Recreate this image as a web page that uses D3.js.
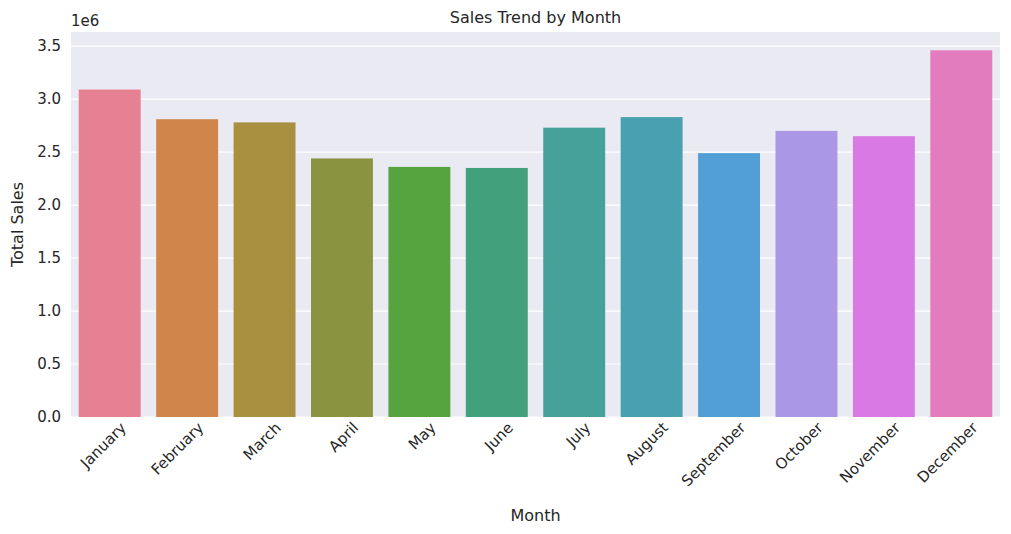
<!DOCTYPE html>
<html>
<head>
<meta charset="utf-8">
<script src="https://cdn.jsdelivr.net/npm/d3@7"></script>
<style>
body { margin: 0; background: #fff; }
text { font-family: "DejaVu Sans", sans-serif; fill: #262626; }
</style>
</head>
<body>
<svg id="chart" width="1011" height="534"></svg>
<script>
const months = ["January", "February", "March", "April", "May", "June", "July", "August", "September", "October", "November", "December"];
const sales = [3.09e6, 2.81e6, 2.78e6, 2.44e6, 2.36e6, 2.35e6, 2.73e6, 2.83e6, 2.49e6, 2.70e6, 2.65e6, 3.46e6];
const colors = ["#e68193", "#d0864a", "#a89040", "#8a9440", "#55a440", "#42a07c", "#45a199", "#48a0b0", "#529fd6", "#aa97e6", "#d97ae4", "#e37bbf"];
const yTicks = [0, 0.5e6, 1e6, 1.5e6, 2e6, 2.5e6, 3e6, 3.5e6];

const margin = { top: 32, right: 11, bottom: 117, left: 71 };
const width = 1011, height = 534;

const svg = d3.select("#chart");

const x = d3.scaleBand()
  .domain(months)
  .range([margin.left, width - margin.right])
  .paddingInner(0.2)
  .paddingOuter(0.1);

const y = d3.scaleLinear()
  .domain([0, 3.633e6])
  .range([height - margin.bottom, margin.top]);

svg.append("rect")
  .attr("x", margin.left).attr("y", margin.top)
  .attr("width", width - margin.left - margin.right)
  .attr("height", height - margin.top - margin.bottom)
  .attr("fill", "#eaeaf2");

// grid
svg.append("g").selectAll("line")
  .data(yTicks).enter().append("line")
  .attr("x1", margin.left).attr("x2", width - margin.right)
  .attr("y1", d => y(d)).attr("y2", d => y(d))
  .attr("stroke", "#fff").attr("stroke-width", 1.2);

svg.append("g").selectAll("rect")
  .data(months).enter().append("rect")
  .attr("x", d => x(d))
  .attr("y", (d, i) => y(sales[i]))
  .attr("width", x.bandwidth())
  .attr("height", (d, i) => y(0) - y(sales[i]))
  .attr("fill", (d, i) => colors[i]);

const yAxis = svg.append("g")
  .attr("transform", `translate(${margin.left},0)`)
  .call(d3.axisLeft(y).tickValues(yTicks).tickSize(0).tickPadding(10).tickFormat(d => (d / 1e6).toFixed(1)));
yAxis.select(".domain").remove();
yAxis.selectAll("text").style("font-size", "15px");

const xAxis = svg.append("g")
  .attr("transform", `translate(0,${height - margin.bottom})`)
  .call(d3.axisBottom(x).tickSize(0).tickPadding(8));
xAxis.select(".domain").remove();
xAxis.selectAll("text")
  .style("font-size", "15px")
  .attr("text-anchor", "end")
  .attr("dy", "0.7em")
  .attr("transform", "rotate(-45) translate(4,2)");

svg.append("text")
  .attr("x", margin.left).attr("y", 26)
  .style("font-size", "15px")
  .text("1e6");

svg.append("text")
  .attr("x", (margin.left + width - margin.right) / 2).attr("y", 23)
  .attr("text-anchor", "middle")
  .style("font-size", "16px")
  .text("Sales Trend by Month");

svg.append("text")
  .attr("x", (margin.left + width - margin.right) / 2).attr("y", 521)
  .attr("text-anchor", "middle")
  .style("font-size", "16px")
  .text("Month");

svg.append("text")
  .attr("transform", `translate(23,${(margin.top + height - margin.bottom) / 2}) rotate(-90)`)
  .attr("text-anchor", "middle")
  .style("font-size", "16px")
  .text("Total Sales");
</script>
</body>
</html>
